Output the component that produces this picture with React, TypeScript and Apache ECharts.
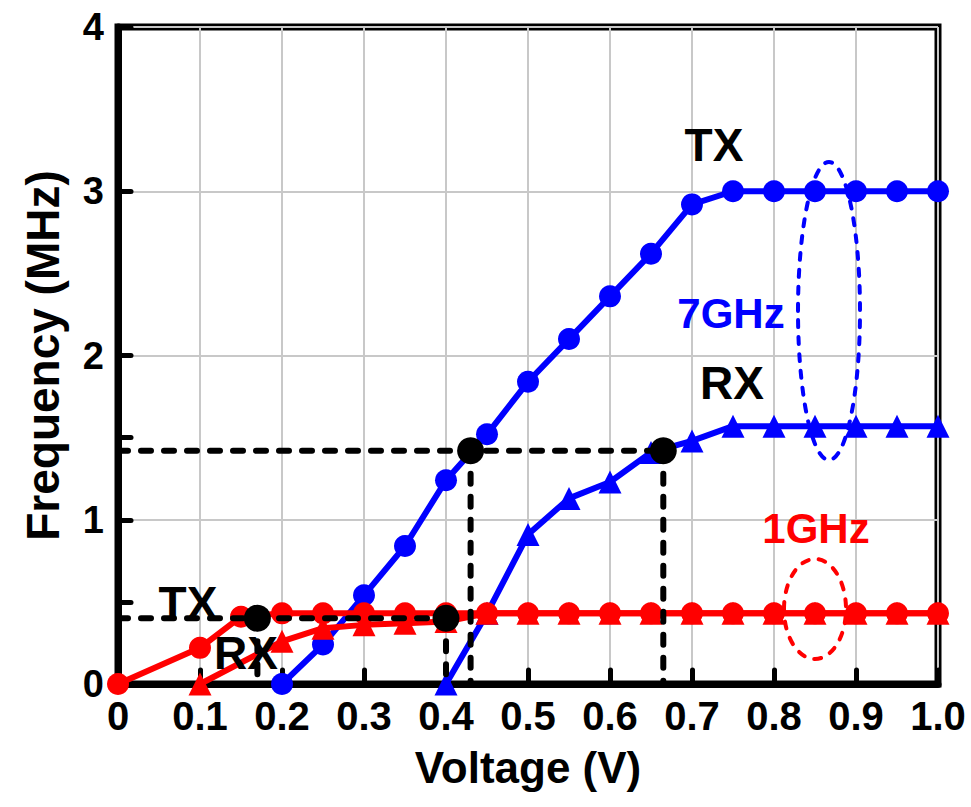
import React, { useEffect, useRef } from "react";
import * as echarts from "echarts";

// ---- data ----
const tx7GHzX = [0.2, 0.25, 0.3, 0.35, 0.4, 0.45, 0.5, 0.55, 0.6, 0.65, 0.7, 0.75, 0.8, 0.85, 0.9, 0.95, 1.0];
const tx7GHzY = [0, 0.24, 0.54, 0.84, 1.24, 1.52, 1.84, 2.1, 2.36, 2.62, 2.92, 3.0, 3.0, 3.0, 3.0, 3.0, 3.0];

const rx7GHzX = [0.4, 0.45, 0.5, 0.55, 0.6, 0.65, 0.7, 0.75, 0.8, 0.85, 0.9, 0.95, 1.0];
const rx7GHzY = [0, 0.43, 0.91, 1.13, 1.23, 1.41, 1.48, 1.57, 1.57, 1.57, 1.57, 1.57, 1.57];

const tx1GHzX = [0, 0.1, 0.15, 0.2, 0.25, 0.3, 0.35, 0.4, 0.45, 0.5, 0.55, 0.6, 0.65, 0.7, 0.75, 0.8, 0.85, 0.9, 0.95, 1.0];
const tx1GHzY = [0, 0.22, 0.41, 0.43, 0.43, 0.43, 0.43, 0.43, 0.43, 0.43, 0.43, 0.43, 0.43, 0.43, 0.43, 0.43, 0.43, 0.43, 0.43, 0.43];

const rx1GHzX = [0.1, 0.2, 0.25, 0.3, 0.35, 0.4, 0.45, 0.5, 0.55, 0.6, 0.65, 0.7, 0.75, 0.8, 0.85, 0.9, 0.95, 1.0];
const rx1GHzY = [0, 0.26, 0.34, 0.36, 0.37, 0.38, 0.43, 0.43, 0.43, 0.43, 0.43, 0.43, 0.43, 0.43, 0.43, 0.43, 0.43, 0.43];

const markX = [0.17, 0.4, 0.43, 0.665];
const markY = [0.4, 0.4, 1.42, 1.42];

const xTicks = [0, 0.1, 0.2, 0.3, 0.4, 0.5, 0.6, 0.7, 0.8, 0.9, 1.0];
const yTicks = [0, 1, 2, 3, 4];
// half-step tick positions on the y axis (only the lower ones are drawn in the original)
const yHalfSteps = ["0", "0.5", "1", "1.5", "2", "2.5", "3", "3.5", "4"];
const yMinorShown = ["0.5", "1.5"];

const FONT = "'Liberation Sans', Arial, sans-serif";
const BLUE = "#0000ff";
const RED = "#ff0000";

function zip(xs: number[], ys: number[]) {
  return xs.map((x, i) => [x, ys[i]]);
}

export default function App() {
  const ref = useRef<HTMLDivElement>(null);

  useEffect(() => {
    if (!ref.current) return;
    const chart = echarts.init(ref.current, undefined, { renderer: "svg" });

    const lineSeries = (name: string, xs: number[], ys: number[], color: string, symbol: string, size: number) => ({
      name,
      type: "line",
      data: zip(xs, ys),
      symbol,
      symbolSize: size,
      clip: false,
      itemStyle: { color, opacity: 1 },
      lineStyle: { color, width: 6 },
      z: 3,
    });

    // dashed guide lines derived from the marked points
    const guides: any[] = [];
    const levels = Array.from(new Set(markY));
    levels.forEach((lv) => {
      const maxX = Math.max(...markX.filter((_, i) => markY[i] === lv));
      guides.push([[xTicks[0], lv], [maxX, lv]]);
    });
    markX.forEach((mx, i) => {
      guides.push([[mx, markY[i]], [mx, yTicks[0]]]);
    });
    const guideSeries = guides.map((g, i) => ({
      name: "guide" + i,
      type: "line",
      data: g,
      symbol: "none",
      clip: false,
      lineStyle: { color: "#000", width: 6, type: [10, 13], cap: "round" },
      z: 4,
    }));

    const txt = (text: string, x: number, y: number, color: string, size: number) => ({
      type: "text",
      x,
      y,
      z: 100,
      style: {
        text,
        fill: color,
        font: `bold ${size}px ${FONT}`,
        textAlign: "center",
        textVerticalAlign: "middle",
        align: "center",
        verticalAlign: "middle",
      },
    });

    chart.setOption({
      animation: false,
      grid: {
        left: 118,
        right: 33,
        top: 27,
        bottom: 123,
        show: true,
        borderColor: "#000",
        borderWidth: 7,
        backgroundColor: "transparent",
      },
      xAxis: {
        type: "value",
        min: xTicks[0],
        max: xTicks[xTicks.length - 1],
        interval: 0.1,
        name: "Voltage (V)",
        nameLocation: "middle",
        nameGap: 61,
        nameTextStyle: { fontFamily: FONT, fontWeight: "bold", fontSize: 44, color: "#000" },
        axisLine: { show: true, lineStyle: { color: "#000", width: 7 } },
        axisTick: { show: true, inside: true, length: 14, lineStyle: { color: "#000", width: 5, cap: "round" } },
        axisLabel: {
          margin: 12,
          fontFamily: FONT,
          fontWeight: "bold",
          fontSize: 40,
          color: "#000",
          formatter: (v: number) => (Math.abs(v) < 1e-9 ? "0" : v.toFixed(1)),
        },
        splitLine: { show: true, lineStyle: { color: "#c8c8c8", width: 2 } },
      },
      yAxis: [
        {
          type: "value",
          min: yTicks[0],
          max: yTicks[yTicks.length - 1],
          interval: 1,
          name: "Frequency (MHz)",
          nameLocation: "middle",
          nameGap: 52,
          nameTextStyle: { fontFamily: FONT, fontWeight: "bold", fontSize: 46, color: "#000" },
          axisLine: { show: true, lineStyle: { color: "#000", width: 7 } },
          axisTick: { show: true, inside: true, length: 13, lineStyle: { color: "#000", width: 5, cap: "round" } },
          axisLabel: {
            margin: 14,
            fontFamily: FONT,
            fontWeight: "bold",
            fontSize: 38,
            color: "#000",
          },
          splitLine: { show: true, lineStyle: { color: "#c8c8c8", width: 2 } },
        },
        {
          type: "category",
          position: "left",
          data: yHalfSteps,
          boundaryGap: false,
          axisLine: { show: false },
          axisLabel: { show: false },
          splitLine: { show: false },
          axisTick: {
            show: true,
            inside: true,
            length: 13,
            interval: (_i: number, v: string) => yMinorShown.includes(v),
            lineStyle: { color: "#000", width: 5, cap: "round" },
          },
        },
      ],
      series: [
        lineSeries("7GHz TX", tx7GHzX, tx7GHzY, BLUE, "circle", 22),
        lineSeries("7GHz RX", rx7GHzX, rx7GHzY, BLUE, "triangle", 23),
        lineSeries("1GHz TX", tx1GHzX, tx1GHzY, RED, "circle", 22),
        lineSeries("1GHz RX", rx1GHzX, rx1GHzY, RED, "triangle", 23),
        ...guideSeries,
        {
          name: "marks",
          type: "scatter",
          data: zip(markX, markY),
          symbol: "circle",
          symbolSize: 27,
          clip: false,
          itemStyle: { color: "#000", opacity: 1 },
          z: 5,
        },
      ],
      graphic: [
        {
          type: "ellipse",
          z: 50,
          shape: { cx: 829, cy: 311, rx: 31, ry: 149 },
          style: { fill: "none", stroke: BLUE, lineWidth: 4, lineDash: [7, 10], lineCap: "round" },
        },
        {
          type: "ellipse",
          z: 50,
          shape: { cx: 815, cy: 609, rx: 31, ry: 50 },
          style: { fill: "none", stroke: RED, lineWidth: 4, lineDash: [7, 10], lineCap: "round" },
        },
        txt("TX", 714, 145, "#000", 46),
        txt("7GHz", 731, 313, BLUE, 42),
        txt("RX", 732, 383, "#000", 46),
        txt("1GHz", 816, 528, RED, 42),
        txt("TX", 188, 603, "#000", 46),
        txt("RX", 246, 653, "#000", 46),
      ],
    });

    return () => chart.dispose();
  }, []);

  return <div ref={ref} style={{ width: 971, height: 807, position: "absolute", left: 0, top: 0, background: "#fff" }} />;
}
